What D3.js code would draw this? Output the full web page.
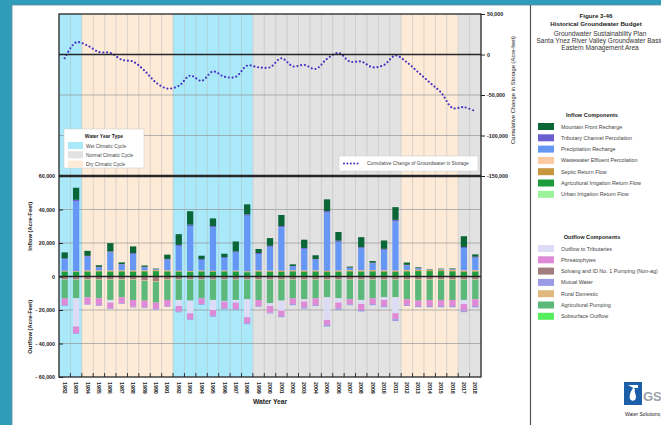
<!DOCTYPE html>
<html>
<head>
<meta charset="utf-8">
<script src="https://cdn.jsdelivr.net/npm/d3@7"></script>
<style>
body { margin: 0; background: #2f9db9; }
svg { display: block; font-family: "Liberation Sans", Arial, sans-serif; }
</style>
</head>
<body>
<svg id="fig" width="661" height="425"></svg>
<script>
// Water years shown on the x axis.
var years = [1982,1983,1984,1985,1986,1987,1988,1989,1990,1991,1992,1993,1994,1995,1996,1997,1998,1999,2000,
             2001,2002,2003,2004,2005,2006,2007,2008,2009,2010,2011,2012,2013,2014,2015,2016,2017,2018];

// Water year type periods (background bands).
var cycleTypes = ["wet", "dry", "wet", "normal", "dry", "normal"];
var cycleFrom  = [1982, 1984, 1992, 1999, 2012, 2017];
var cycleTo    = [1983, 1991, 1998, 2011, 2016, 2018];

// Inflow components (acre-feet), stacked bottom to top.
var urbanIrrReturn = [180,170,190,200,180,190,200,210,220,190,170,160,180,170,180,190,160,190,180,170,200,190,200,170,180,210,190,200,190,170,220,230,240,240,230,200,210];
var agIrrReturn    = [2700,2500,2800,2900,2800,2900,2800,2900,3000,2900,2700,2500,2800,2600,2800,2700,2400,2800,2700,2600,2900,2700,2800,2500,2700,2900,2800,2900,2800,2600,2900,3000,3000,3000,2900,2700,2800];
var septicReturn   = [440,450,460,450,470,460,480,470,490,480,500,490,510,500,510,520,520,530,520,540,530,550,540,560,550,570,560,580,570,590,580,600,590,600,610,600,620];
var wastewater     = [120,120,130,130,130,140,140,140,150,150,150,150,160,160,160,160,170,170,170,170,180,180,180,180,190,190,190,190,200,200,200,200,210,210,210,210,220];
var precipRecharge = [6950,41550,8350,1750,10850,3450,9850,1750,450,6350,14750,26850,6250,25850,7450,10750,33050,9750,14150,25950,2150,12850,6350,34750,17050,1250,13150,4050,12150,29350,2750,750,150,250,350,13250,7350];
var tribPerc       = [400,1000,400,300,500,300,500,300,100,400,600,800,500,800,500,600,800,600,600,700,300,500,400,900,700,200,600,300,600,900,300,200,100,100,100,700,600];
var mountainFront  = [3600,7200,3000,1000,5000,1000,4000,800,300,2600,6400,8000,2000,4600,2000,6000,6000,2400,4600,6600,1000,5000,2200,7000,5200,600,6000,1000,5000,7600,1400,500,200,300,400,6400,1400];

// Outflow components (acre-feet, positive numbers), stacked from zero downward.
var subsurfaceOut  = [100,100,100,100,100,100,100,100,100,100,100,100,100,100,100,100,100,100,100,100,100,100,100,100,100,100,100,100,100,100,100,100,100,100,100,100,100];
var solvangPumping = [1500,1500,1500,1500,1500,1500,1500,2200,2800,1500,1500,1500,1500,1500,1500,1500,1500,1500,1500,1500,1500,1500,1500,1500,1500,1500,1500,1500,1500,1500,1500,1500,1500,1500,1500,1500,1500];
var ruralDomestic  = [300,300,300,300,300,300,300,300,300,300,300,300,300,300,300,300,300,300,300,300,300,300,300,300,300,300,300,300,300,300,300,300,300,300,300,300,300];
var agPumping      = [11100,11100,10500,11100,12100,10500,12100,11800,12400,12100,12100,12500,11100,12100,12700,12100,11700,12100,14100,12500,11100,11700,11100,10500,11100,11700,12100,11100,10500,10500,11700,12500,12100,12100,12100,12100,11700];
var tribOutflow    = [0,16900,0,0,1600,0,0,0,0,0,3600,7600,0,6000,400,1600,10700,0,1600,6000,0,1400,0,13500,2600,0,2400,0,1600,9500,0,0,0,0,0,2400,0];
var phreatophytes  = [4000,4000,4000,4000,3400,3600,4000,4000,3800,3600,3400,3600,3400,3400,4000,4000,3600,3600,4000,3200,3400,3400,4000,3000,3400,3000,3600,3400,3600,3600,3400,3200,3600,3600,3600,4000,4000];
var mutualWater    = [500,400,400,500,400,400,500,500,400,500,400,400,500,600,500,400,600,500,500,700,700,800,600,1000,900,600,900,700,700,1100,600,700,800,800,800,900,800];

// Cumulative change of groundwater in storage (acre-feet).
var cumStorage = [-4600,15000,11000,3000,2000,-6500,-8800,-20000,-34600,-42000,-38800,-26000,-32500,-21000,-27500,-27500,-13750,
                  -15800,-15800,-4600,-14600,-12900,-17900,-5400,2000,-8750,-8750,-15800,-12900,-1250,-9600,-22000,-34600,-47000,-66000,-65000,-70000];

var inflowKeys = ["urban", "agReturn", "septic", "waste", "precip", "trib", "mountain"];
var inflowNames = ["Urban Irrigation Return Flow", "Agricultural Irrigation Return Flow", "Septic Return Flow",
                   "Wastewater Effluent Percolation", "Precipitation Recharge", "Tributary Channel Percolation", "Mountain Front Recharge"];
var inflowColors = ["#9cf29a", "#1f9c3c", "#c8963e", "#fdc9a0", "#6797f4", "#6a5fd0", "#0b6637"];

var outflowKeys = ["subsurface", "solvang", "rural", "agPump", "tribOut", "phreato", "mutual"];
var outflowColors = ["#55ee5e", "#a27e7e", "#e1b97e", "#5db97a", "#dcdcf6", "#df8ad6", "#9c9ce6"];

var cycleColors = { wet: "#a9e9fa", normal: "#e2e2e2", dry: "#fdebd8" };

// Build table rows for the stack layout.
var rows = years.map(function(y, i) {
  return {
    year: y,
    urban: urbanIrrReturn[i], agReturn: agIrrReturn[i], septic: septicReturn[i], waste: wastewater[i],
    precip: precipRecharge[i], trib: tribPerc[i], mountain: mountainFront[i],
    subsurface: subsurfaceOut[i], solvang: solvangPumping[i], rural: ruralDomestic[i], agPump: agPumping[i],
    tribOut: tribOutflow[i], phreato: phreatophytes[i], mutual: mutualWater[i]
  };
});

// Plot box.
var plotL = 59, plotR = 481, plotT = 14, plotSplit = 176, plotB = 377;

var svg = d3.select("#fig");

// Page background.
svg.append("rect").attr("width", 661).attr("height", 425).attr("fill", "#2f9db9");
svg.append("rect").attr("x", 12).attr("y", 5).attr("width", 660).attr("height", 430)
    .attr("fill", "#fff").attr("stroke", "#5e8c99").attr("stroke-width", 0.8);
svg.append("line").attr("x1", 530.5).attr("x2", 530.5).attr("y1", 5).attr("y2", 425)
    .attr("stroke", "#555").attr("stroke-width", 1.2);

var xYear = d3.scaleBand().domain(years).range([plotL, plotR]).padding(0);
var xBar = d3.scaleBand().domain(years).range([plotL, plotR]).paddingInner(0.45).paddingOuter(0.225);
var yCum = d3.scaleLinear().domain([-150000, 50000]).range([plotSplit, plotT]);
var yFlow = d3.scaleLinear().domain([-60000, 60000]).range([plotB, plotSplit]);

// Water year type bands.
svg.append("g").selectAll("rect")
    .data(cycleTypes)
    .enter().append("rect")
    .attr("x", function(d, i) { return xYear(cycleFrom[i]); })
    .attr("width", function(d, i) { return xYear(cycleTo[i]) + xYear.step() - xYear(cycleFrom[i]); })
    .attr("y", plotT)
    .attr("height", plotB - plotT)
    .attr("fill", function(d) { return cycleColors[d]; });

// Vertical year grid.
svg.append("g").selectAll("line")
    .data(years.slice(1))
    .enter().append("line")
    .attr("x1", function(d) { return xYear(d); })
    .attr("x2", function(d) { return xYear(d); })
    .attr("y1", plotT).attr("y2", plotB)
    .attr("stroke", "#b8b8b8").attr("stroke-width", 0.5);

// Horizontal grid.
var grid = svg.append("g").attr("stroke", "#8a8a8a").attr("stroke-width", 0.6);
[-50000, -100000].forEach(function(v) {
  grid.append("line").attr("x1", plotL).attr("x2", plotR).attr("y1", yCum(v)).attr("y2", yCum(v));
});
[40000, 20000, -20000, -40000].forEach(function(v) {
  grid.append("line").attr("x1", plotL).attr("x2", plotR).attr("y1", yFlow(v)).attr("y2", yFlow(v));
});

// Stacked bars.
var inStack = d3.stack().keys(inflowKeys)(rows);
var outStack = d3.stack().keys(outflowKeys)(rows);

svg.append("g").selectAll("g")
    .data(inStack)
    .enter().append("g")
    .attr("fill", function(d, i) { return inflowColors[i]; })
    .selectAll("rect")
    .data(function(d) { return d; })
    .enter().append("rect")
    .attr("x", function(d) { return xBar(d.data.year); })
    .attr("width", xBar.bandwidth())
    .attr("y", function(d) { return yFlow(d[1]); })
    .attr("height", function(d) { return yFlow(d[0]) - yFlow(d[1]); });

svg.append("g").selectAll("g")
    .data(outStack)
    .enter().append("g")
    .attr("fill", function(d, i) { return outflowColors[i]; })
    .selectAll("rect")
    .data(function(d) { return d; })
    .enter().append("rect")
    .attr("x", function(d) { return xBar(d.data.year); })
    .attr("width", xBar.bandwidth())
    .attr("y", function(d) { return yFlow(-d[0]); })
    .attr("height", function(d) { return yFlow(-d[1]) - yFlow(-d[0]); });

// Cumulative storage line (smoothed, dotted).
var line = d3.line()
    .x(function(d, i) { return xBar(years[i]) + xBar.bandwidth() / 2; })
    .y(function(d) { return yCum(d); })
    .curve(d3.curveCatmullRom.alpha(0.5));

svg.append("path")
    .datum(cumStorage)
    .attr("d", line)
    .attr("fill", "none")
    .attr("stroke", "#4632c2")
    .attr("stroke-width", 2.2)
    .attr("stroke-linecap", "round")
    .attr("stroke-dasharray", "0,3.8");

// Heavy zero lines and frame.
var heavy = svg.append("g").attr("stroke", "#262626");
heavy.append("line").attr("x1", plotL).attr("x2", plotR).attr("y1", yCum(0)).attr("y2", yCum(0)).attr("stroke-width", 1.6);
heavy.append("line").attr("x1", plotL).attr("x2", plotR).attr("y1", yFlow(0)).attr("y2", yFlow(0)).attr("stroke-width", 1.6);
heavy.append("line").attr("x1", plotL).attr("x2", plotR).attr("y1", plotSplit).attr("y2", plotSplit).attr("stroke-width", 2.4);
svg.append("rect").attr("x", plotL).attr("y", plotT).attr("width", plotR - plotL).attr("height", plotB - plotT)
    .attr("fill", "none").attr("stroke", "#262626").attr("stroke-width", 1.3);

// Number formats.
var fmtRight = function(v) { return (v < 0 ? "-" : "") + d3.format(",")(Math.abs(v)); };
var fmtLeft = function(v) { return (v < 0 ? "- " : "") + d3.format(",")(Math.abs(v)); };

// Right axis (cumulative change).
var rAxis = svg.append("g").attr("transform", "translate(" + plotR + ",0)");
rAxis.call(d3.axisRight(yCum).tickValues(d3.range(-150000, 50001, 10000)).tickSize(3).tickFormat(""));
rAxis.call(d3.axisRight(yCum).tickValues([50000, 0, -50000, -100000, -150000]).tickSize(4).tickPadding(2).tickFormat(fmtRight));
rAxis.selectAll(".domain").remove();
rAxis.selectAll("line").attr("stroke", "#222");
rAxis.selectAll("text").attr("font-size", 5.3).attr("font-weight", "bold").attr("fill", "#222").attr("font-family", "Liberation Sans, Arial, sans-serif");

// Left axis (inflow/outflow).
var lAxis = svg.append("g").attr("transform", "translate(" + plotL + ",0)");
lAxis.call(d3.axisLeft(yFlow).tickValues(d3.range(-50000, 50001, 20000)).tickSize(-3).tickFormat(""));
lAxis.call(d3.axisLeft(yFlow).tickValues([60000, 40000, 20000, 0, -20000, -40000, -60000]).tickSize(-4).tickPadding(4).tickFormat(fmtLeft));
lAxis.selectAll(".domain").remove();
lAxis.selectAll("line").attr("stroke", "#222");
lAxis.selectAll("text").attr("font-size", 5.3).attr("font-weight", "bold").attr("fill", "#222").attr("font-family", "Liberation Sans, Arial, sans-serif");

// Bottom year ticks and labels.
svg.append("g").selectAll("line")
    .data(years.slice(1))
    .enter().append("line")
    .attr("x1", function(d) { return xYear(d); })
    .attr("x2", function(d) { return xYear(d); })
    .attr("y1", plotB - 4).attr("y2", plotB)
    .attr("stroke", "#222").attr("stroke-width", 0.9);

svg.append("g").selectAll("text")
    .data(years)
    .enter().append("text")
    .attr("transform", function(d) { return "translate(" + (xBar(d) + xBar.bandwidth() / 2) + "," + (plotB + 5) + ") rotate(90)"; })
    .attr("dy", "0.35em")
    .attr("font-size", 5.3)
    .attr("font-weight", "bold")
    .attr("fill", "#222")
    .text(function(d) { return d; });

// Axis titles.
svg.append("text").attr("x", (plotL + plotR) / 2).attr("y", 404).attr("text-anchor", "middle")
    .attr("font-size", 6.7).attr("font-weight", "bold").attr("fill", "#222").text("Water Year");
svg.append("text").attr("transform", "translate(32," + (yFlow(30000)) + ") rotate(-90)").attr("text-anchor", "middle")
    .attr("font-size", 5.8).attr("font-weight", "bold").attr("fill", "#222").text("Inflow (Acre-Feet)");
svg.append("text").attr("transform", "translate(32," + (yFlow(-30000)) + ") rotate(-90)").attr("text-anchor", "middle")
    .attr("font-size", 5.8).attr("font-weight", "bold").attr("fill", "#222").text("Outflow (Acre-Feet)");
svg.append("text").attr("transform", "translate(515,90) rotate(-90)").attr("text-anchor", "middle")
    .attr("font-size", 5.8).attr("fill", "#222").text("Cumulative Change in Storage (Acre-feet)");

// Water year type legend.
var wl = svg.append("g").attr("transform", "translate(64,129)");
wl.append("rect").attr("width", 80).attr("height", 39).attr("fill", "#fff").attr("stroke", "#cfcfcf").attr("stroke-width", 0.6);
wl.append("text").attr("x", 40).attr("y", 8.5).attr("text-anchor", "middle").attr("font-size", 5).attr("font-weight", "bold")
    .attr("fill", "#222").text("Water Year Type");
var wlNames = ["Wet Climatic Cycle", "Normal Climatic Cycle", "Dry Climatic Cycle"];
var wlKeys = ["wet", "normal", "dry"];
wlKeys.forEach(function(k, i) {
  wl.append("rect").attr("x", 4).attr("y", 13 + i * 9.3).attr("width", 15).attr("height", 7).attr("fill", cycleColors[k]);
  wl.append("text").attr("x", 22).attr("y", 18.6 + i * 9.3).attr("font-size", 4.8).attr("fill", "#444").text(wlNames[i]);
});

// Cumulative line legend.
var cl = svg.append("g").attr("transform", "translate(339,156)");
cl.append("rect").attr("width", 139).attr("height", 15).attr("fill", "#fff").attr("stroke", "#cfcfcf").attr("stroke-width", 0.6);
cl.append("line").attr("x1", 5).attr("x2", 22).attr("y1", 7.5).attr("y2", 7.5)
    .attr("stroke", "#4632c2").attr("stroke-width", 2).attr("stroke-linecap", "round").attr("stroke-dasharray", "0,3.4");
cl.append("text").attr("x", 28).attr("y", 9.3).attr("font-size", 4.9).attr("fill", "#444")
    .text("Cumulative Change of Groundwater in Storage");

// Right panel titles.
var tp = svg.append("g").attr("text-anchor", "middle").attr("fill", "#222");
tp.append("text").attr("x", 596).attr("y", 18).attr("font-size", 6.2).attr("font-weight", "bold").text("Figure 3-46");
tp.append("text").attr("x", 596).attr("y", 25.5).attr("font-size", 6.2).attr("font-weight", "bold").text("Historical Groundwater Budget");
tp.append("text").attr("x", 600).attr("y", 35.5).attr("font-size", 6.5).attr("fill", "#333").text("Groundwater Sustainability Plan");
tp.append("text").attr("x", 600).attr("y", 42.5).attr("font-size", 6.5).attr("fill", "#333").text("Santa Ynez River Valley Groundwater Basin");
tp.append("text").attr("x", 600).attr("y", 49.5).attr("font-size", 6.5).attr("fill", "#333").text("Eastern Management Area");

// Component legends (listed top of stack first).
function componentLegend(y0, title, names, colors) {
  var g = svg.append("g").attr("transform", "translate(538," + y0 + ")");
  g.append("text").attr("x", 54).attr("y", 0).attr("text-anchor", "middle").attr("font-size", 5.6)
      .attr("font-weight", "bold").attr("fill", "#222").text(title);
  names.forEach(function(n, i) {
    g.append("rect").attr("x", 0).attr("y", 6 + i * 11.3).attr("width", 16).attr("height", 7).attr("fill", colors[i]);
    g.append("text").attr("x", 23).attr("y", 11.5 + i * 11.3).attr("font-size", 5.4).attr("fill", "#444").text(n);
  });
}
componentLegend(117, "Inflow Components", inflowNames.slice().reverse(), inflowColors.slice().reverse());
componentLegend(239, "Outflow Components",
  ["Outflow to Tributaries", "Phreatophytes", "Solvang and ID No. 1 Pumping (Non-ag)", "Mutual Water", "Rural Domestic", "Agricultural Pumping", "Subsurface Outflow"],
  ["#dcdcf6", "#df8ad6", "#a27e7e", "#9c9ce6", "#e1b97e", "#5db97a", "#55ee5e"]);

// Logo.
var logo = svg.append("g").attr("transform", "translate(624,382)");
logo.append("rect").attr("width", 18).attr("height", 23).attr("fill", "#1c5ea8");
logo.append("path").attr("d", "M4,3 L14,3 L14,6 L9,6 C7,9 5,13 6,17 C8,20 12,19 12,15 C12,12 10,10 11,7 Z").attr("fill", "#fff");
logo.append("text").attr("x", 19).attr("y", 19).attr("font-size", 13).attr("font-weight", "bold").attr("fill", "#9aa3ab").text("GS");
svg.append("text").attr("x", 625).attr("y", 416).attr("font-size", 5).attr("fill", "#222").text("Water Solutions,");
</script>
</body>
</html>
